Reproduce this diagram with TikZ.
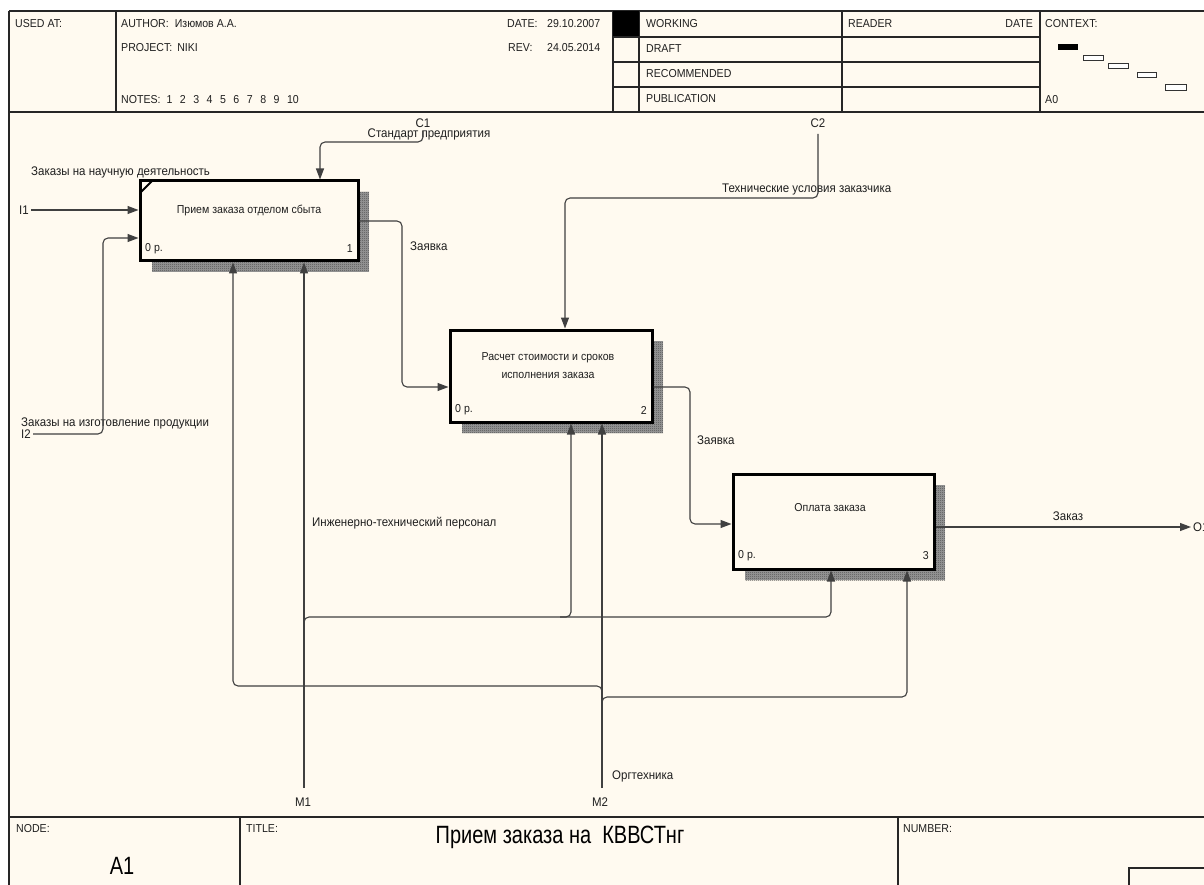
\documentclass[tikz,border=0pt]{standalone}
\usepackage{fontspec}
\setmainfont{Liberation Sans}[FakeStretch=0.92]
\newfontfamily\bigfont{Liberation Sans}[FakeStretch=0.8]
\usetikzlibrary{arrows.meta,patterns.meta}
\definecolor{cream}{RGB}{255,250,240}
\tikzdeclarepattern{name=dither, type=uncolored,
  bounding box={(0,0) and (2pt,2pt)}, tile size={(2pt,2pt)},
  code={\fill (0,0) rectangle (1pt,1pt); \fill (1pt,1pt) rectangle (2pt,2pt);}}
\begin{document}
\begin{tikzpicture}[x=1pt,y=-1pt,
  lbl/.style={inner sep=0pt, font=\fontsize{11.5}{13.8}\selectfont, text=black!88},
  albl/.style={inner sep=0pt, font=\fontsize{12.5}{15}\selectfont, text=black!88},
  big/.style={inner sep=0pt, font=\bigfont\fontsize{25}{28}\selectfont, text=black},
  fbox/.style={draw=black, line width=3pt, fill=cream, inner sep=0pt},
  shdbase/.style={fill=black!38},
  shd/.style={pattern=dither, pattern color=black!80},
  arr/.style={draw=black!75, line width=1.1pt, rounded corners=5pt, -{Triangle[length=11pt,width=8pt]}},
  frm/.style={draw=black!85, line width=1.3pt},
  cbox/.style={draw=black!80, line width=0.8pt, fill=white}]

\fill[white] (0,0) rectangle (1204,885);
\fill[cream] (9,11) rectangle (1204,885);
\useasboundingbox (0,0) rectangle (1204,885);

% ---------- frame ----------
\draw[frm] (9,11) -- (1204,11);
\draw[frm] (9,11) -- (9,885);
\draw[frm] (9,112) -- (1204,112);
\draw[frm] (9,817) -- (1204,817);
\draw[frm] (116,11) -- (116,112);
\draw[frm] (613,11) -- (613,112);
\draw[frm] (639,11) -- (639,112);
\draw[frm] (842,11) -- (842,112);
\draw[frm] (1040,11) -- (1040,112);
\fill[black] (613,11) rectangle (639,37);
\draw[frm] (613,37) -- (1040,37);
\draw[frm] (613,62) -- (1040,62);
\draw[frm] (613,87) -- (1040,87);
\draw[frm] (240,817) -- (240,885);
\draw[frm] (898,817) -- (898,885);
\draw[frm] (1129,885) -- (1129,868) -- (1204,868);

% ---------- header texts ----------
\node[lbl, anchor=west] (usedat) at (15,24) {USED AT:};
\node[lbl, anchor=west] (author) at (121,24) {AUTHOR:\hspace{6pt}Изюмов А.А.};
\node[lbl, anchor=west] (project) at (121,48) {PROJECT:\hspace{5pt}NIKI};
\node[lbl, anchor=west] (notes) at (121,100) {NOTES:\hspace{6pt}1\hspace{7.5pt}2\hspace{7.5pt}3\hspace{7.5pt}4\hspace{7.5pt}5\hspace{7.5pt}6\hspace{7.5pt}7\hspace{7.5pt}8\hspace{7.5pt}9\hspace{7.5pt}10};
\node[lbl, anchor=west] (datel) at (507,24) {DATE:};
\node[lbl, anchor=west] (datev) at (547,24) {29.10.2007};
\node[lbl, anchor=west] (revl) at (508,48) {REV:};
\node[lbl, anchor=west] (revv) at (547,48) {24.05.2014};
\node[lbl, anchor=west] (working) at (646,24) {WORKING};
\node[lbl, anchor=west] (draft) at (646,49) {DRAFT};
\node[lbl, anchor=west] (recomm) at (646,74) {RECOMMENDED};
\node[lbl, anchor=west] (public) at (646,99) {PUBLICATION};
\node[lbl, anchor=west] (reader) at (848,24) {READER};
\node[lbl, anchor=east] (rdate) at (1033,24) {DATE};
\node[lbl, anchor=west] (context) at (1045,24) {CONTEXT:};
\node[lbl, anchor=west] (azero) at (1045,100) {A0};
\fill[black] (1058,44) rectangle (1078,50);
\draw[cbox] (1083,55) rectangle (1103,60);
\draw[cbox] (1108,63) rectangle (1128,68);
\draw[cbox] (1137,72) rectangle (1156,77);
\draw[cbox] (1165,84) rectangle (1186,90);

% ---------- footer texts ----------
\node[lbl, anchor=west] (nodel) at (16,829) {NODE:};
\node[lbl, anchor=west] (titlel) at (246,829) {TITLE:};
\node[lbl, anchor=west] (numberl) at (903,829) {NUMBER:};
\node[big] (aone) at (122,866) {A1};
\node[big] (title) at (560,837) {Прием заказа на~\ КВВСТнг};

% ---------- boxes ----------
\foreach \xa/\ya/\xb/\yb in {152/192/369/272, 462/341/663/433, 745/485/945/580}{
  \fill[shdbase] (\xa,\ya) rectangle (\xb,\yb);
  \fill[shd] (\xa,\ya) rectangle (\xb,\yb);
}
\node[fbox, minimum width=218pt, minimum height=80pt] (b1) at (249,221) {};
\node[fbox, minimum width=202pt, minimum height=92pt] (b2) at (551,376) {};
\node[fbox, minimum width=201pt, minimum height=95pt] (b3) at (833.5,521.5) {};
\draw[black, line width=2pt] (141,192) -- (152,181);

\node[lbl] (t1) at (249,210) {Прием заказа отделом сбыта};
\node[lbl, align=center, font=\fontsize{11.5}{18}\selectfont] (t2) at (548,366) {Расчет стоимости и сроков\\исполнения заказа};
\node[lbl] (t3) at (830,508) {Оплата заказа};
\node[lbl, anchor=west] (p1) at (145,249) {0 р.};
\node[lbl, anchor=east] (n1) at (353,249) {1};
\node[lbl, anchor=west] (p2) at (455,410) {0 р.};
\node[lbl, anchor=east] (n2) at (647,410) {2};
\node[lbl, anchor=west] (p3) at (738,556) {0 р.};
\node[lbl, anchor=east] (n3) at (929,556) {3};

% ---------- boundary labels ----------
\node[albl, anchor=east] (li1) at (29,210) {I1};
\node[albl, anchor=east] (li2) at (31,434) {I2};
\node[albl] (lc1) at (423,123) {C1};
\node[albl] (lc2) at (818,123) {C2};
\node[albl] (lm1) at (303,802) {M1};
\node[albl] (lm2) at (600,802) {M2};
\node[albl, anchor=west] (lo1) at (1193,527) {O1};

\coordinate (i1) at (31,210);
\coordinate (i2) at (33,434);
\coordinate (c1) at (423,131);
\coordinate (c2) at (818,134);
\coordinate (m1) at (304,788);
\coordinate (m2) at (602,788);
\coordinate (o1) at (1191,527);

% ---------- arrow labels ----------
\node[albl, anchor=west] (a1) at (31,172) {Заказы на научную деятельность};
\node[albl, anchor=west] (a2) at (21,423) {Заказы на изготовление продукции};
\node[albl] (a3) at (429,134) {Стандарт предприятия};
\node[albl, anchor=west] (a4) at (410,246) {Заявка};
\node[albl, anchor=west] (a5) at (722,189) {Технические условия заказчика};
\node[albl, anchor=west] (a6) at (697,440) {Заявка};
\node[albl] (a7) at (1068,516) {Заказ};
\node[albl, anchor=west] (a8) at (312,523) {Инженерно-технический персонал};
\node[albl, anchor=west] (a9) at (612,776) {Оргтехника};

% ---------- connectors ----------
\draw[arr] (i1) -- (b1.west |- i1);
\draw[arr] (i2) -- (103,434) -- (103,238) -- (b1.west |- 0,238);
\draw[arr] (c1) -- (423,142) -- (320,142) -- (b1.north -| 320,0);
\draw[arr] (b1.east) -- (402,221) -- (402,387) -- (b2.west |- 0,387);
\draw[arr] (c2) -- (818,198) -- (565,198) -- (b2.north -| 565,0);
\draw[arr] (b2.east |- 0,387) -- (690,387) -- (690,524) -- (b3.west |- 0,524);
\draw[arr] (b3.east |- 0,527) -- (o1);
\draw[arr] (m1) -- (b1.south -| 304,0);
\draw[arr] (304,630) -- (304,617) -- (831,617) -- (b3.south -| 831,0);
\draw[arr] (560,617) -- (571,617) -- (b2.south -| 571,0);
\draw[arr] (m2) -- (b2.south -| 602,0);
\draw[arr] (602,708) -- (602,697) -- (907,697) -- (b3.south -| 907,0);
\draw[arr] (602,696) -- (602,686) -- (233,686) -- (b1.south -| 233,0);
\end{tikzpicture}
\end{document}
